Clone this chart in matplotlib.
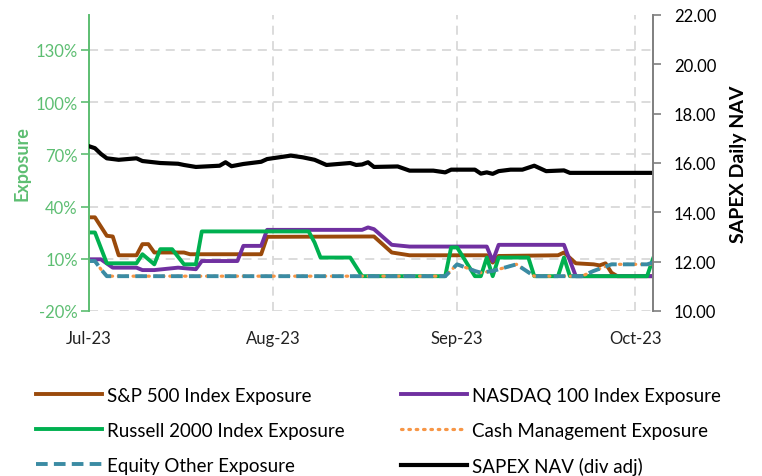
import matplotlib
matplotlib.use("Agg")
import matplotlib.pyplot as plt
import matplotlib.dates as mdates
from matplotlib.ticker import PercentFormatter, FormatStrFormatter
import pandas as pd

plt.rcParams["font.family"] = ["Lato", "DejaVu Sans"]
plt.rcParams["axes.unicode_minus"] = False

GREEN_AX = "#5DBE72"
GRID = "#D9D9D9"

# --- data (vertices of each line) ---
nav_dates = ["2023-07-01", "2023-07-02", "2023-07-03", "2023-07-04", "2023-07-06",
             "2023-07-09", "2023-07-10", "2023-07-13", "2023-07-16", "2023-07-17",
             "2023-07-19", "2023-07-23", "2023-07-24", "2023-07-25", "2023-07-27",
             "2023-07-30", "2023-07-31", "2023-08-02", "2023-08-04", "2023-08-06",
             "2023-08-08", "2023-08-10", "2023-08-11", "2023-08-14", "2023-08-15",
             "2023-08-16", "2023-08-17", "2023-08-18", "2023-08-22", "2023-08-24",
             "2023-08-28", "2023-08-30", "2023-08-31", "2023-09-04", "2023-09-05",
             "2023-09-06", "2023-09-07", "2023-09-08", "2023-09-10", "2023-09-12",
             "2023-09-14", "2023-09-16", "2023-09-19", "2023-09-20", "2023-10-04"]
nav_values = [16.68, 16.60, 16.37, 16.19, 16.13,
              16.19, 16.08, 16.00, 15.97, 15.92,
              15.84, 15.89, 16.03, 15.87, 15.96,
              16.05, 16.16, 16.23, 16.30, 16.23,
              16.13, 15.92, 15.94, 16.00, 15.92,
              15.94, 16.03, 15.84, 15.86, 15.69,
              15.69, 15.62, 15.73, 15.73, 15.57,
              15.62, 15.56, 15.67, 15.73, 15.73,
              15.89, 15.67, 15.70, 15.60, 15.60]

sp_dates = ["2023-07-01", "2023-07-02", "2023-07-04", "2023-07-05", "2023-07-06",
            "2023-07-09", "2023-07-10", "2023-07-11", "2023-07-12", "2023-07-17",
            "2023-07-18", "2023-07-30", "2023-07-31", "2023-08-18", "2023-08-21",
            "2023-08-24", "2023-09-06", "2023-09-07", "2023-09-08", "2023-09-18",
            "2023-09-19", "2023-09-21", "2023-09-24", "2023-09-25", "2023-09-26",
            "2023-09-27", "2023-09-28", "2023-10-04"]
sp_values = [33.8, 33.8, 23.2, 22.8, 12.0,
             12.0, 18.4, 18.4, 13.6, 13.6,
             12.6, 12.6, 22.6, 22.8, 13.6,
             12.0, 12.0, 7.8, 11.6, 12.0,
             13.6, 7.4, 6.8, 6.2, 7.4,
             2.0, 0.0, 0.0]

ndx_dates = ["2023-07-01", "2023-07-03", "2023-07-05", "2023-07-09", "2023-07-10",
             "2023-07-12", "2023-07-16", "2023-07-19", "2023-07-20", "2023-07-26",
             "2023-07-27", "2023-07-30", "2023-07-31", "2023-08-16", "2023-08-17",
             "2023-08-18", "2023-08-21", "2023-08-24", "2023-09-06", "2023-09-07",
             "2023-09-08", "2023-09-19", "2023-09-21", "2023-10-04"]
ndx_values = [9.7, 9.7, 4.9, 4.9, 3.5,
              3.5, 4.9, 4.0, 8.7, 8.7,
              17.4, 17.4, 26.6, 26.6, 28.0,
              27.0, 18.0, 17.0, 17.0, 8.7,
              18.0, 18.0, 0.0, 0.0]

rut_dates = ["2023-07-01", "2023-07-02", "2023-07-04", "2023-07-09", "2023-07-10",
             "2023-07-12", "2023-07-13", "2023-07-15", "2023-07-17", "2023-07-19",
             "2023-07-20", "2023-08-07", "2023-08-08", "2023-08-09", "2023-08-14",
             "2023-08-16", "2023-08-30", "2023-08-31", "2023-09-01", "2023-09-04",
             "2023-09-05", "2023-09-06", "2023-09-07", "2023-09-08", "2023-09-13",
             "2023-09-14", "2023-09-18", "2023-09-19", "2023-09-20", "2023-10-03",
             "2023-10-04"]
rut_values = [25.1, 25.1, 7.4, 7.4, 12.6,
              6.8, 15.5, 15.5, 6.8, 6.8,
              25.7, 25.7, 19.3, 10.7, 10.7,
              0.0, 0.0, 16.5, 16.5, 0.0,
              0.0, 10.7, 0.0, 10.7, 10.7,
              0.0, 0.0, 10.7, 0.0, 0.0,
              10.0]

cash_dates = ["2023-07-01", "2023-07-02", "2023-07-03", "2023-07-04", "2023-08-30",
              "2023-09-01", "2023-09-04", "2023-09-05", "2023-09-07", "2023-09-11",
              "2023-09-14", "2023-09-22", "2023-09-24", "2023-09-27", "2023-10-04"]
cash_values = [8.7, 8.7, 4.0, 0.0, 0.0,
               6.8, 3.0, 2.0, 3.0, 6.8,
               0.0, 0.0, 3.0, 6.8, 6.8]

eq_dates = ["2023-07-01", "2023-07-02", "2023-07-03", "2023-07-04", "2023-08-30",
            "2023-09-01", "2023-09-04", "2023-09-05", "2023-09-07", "2023-09-11",
            "2023-09-14", "2023-09-22", "2023-09-24", "2023-09-27", "2023-10-03",
            "2023-10-04"]
eq_values = [8.7, 8.7, 4.0, 0.0, 0.0,
             6.8, 3.0, 2.0, 3.0, 6.8,
             0.0, 0.0, 3.0, 6.8, 6.8,
             7.8]

month_ticks = ["2023-07-01", "2023-08-01", "2023-09-01", "2023-10-01"]
left_ticks = [-20, 10, 40, 70, 100, 130]
right_ticks = [10, 12, 14, 16, 18, 20, 22]

d = pd.to_datetime

fig = plt.figure(figsize=(7.62, 4.77), dpi=100)
ax = fig.add_axes([89 / 762, 1 - 312 / 477, (653 - 89) / 762, (312 - 16) / 477])
ax2 = ax.twinx()

lw = 2.8
l_sp, = ax.plot(d(sp_dates), sp_values, color="#9A4A0B", lw=lw,
                label="S&P 500 Index Exposure")
l_ndx, = ax.plot(d(ndx_dates), ndx_values, color="#7030A0", lw=lw,
                 label="NASDAQ 100 Index Exposure")
l_rut, = ax.plot(d(rut_dates), rut_values, color="#00B050", lw=lw,
                 label="Russell 2000 Index Exposure")
l_cash, = ax.plot(d(cash_dates), cash_values, color="#F79646", lw=2.3,
                  dashes=(0.5, 1.8), dash_capstyle="round",
                  label="Cash Management Exposure")
l_eq, = ax.plot(d(eq_dates), eq_values, color="#3B8BA3", lw=lw,
                dashes=(3.0, 1.6), label="Equity Other Exposure")
l_nav, = ax2.plot(d(nav_dates), nav_values, color="black", lw=3.0,
                  label="SAPEX NAV (div adj)")

# left axis
ax.set_ylim(-20, 150)
ax.set_yticks(left_ticks)
ax.yaxis.set_major_formatter(PercentFormatter(100, decimals=0))
ax.tick_params(axis="y", colors=GREEN_AX, labelsize=12, length=6, width=1.2, pad=2)
ax.set_ylabel("Exposure", color=GREEN_AX, fontsize=13, fontweight="bold", labelpad=4)

# x axis
ax.set_xlim(d("2023-07-01"), d("2023-10-04"))
ax.set_xticks(d(month_ticks))
ax.xaxis.set_major_formatter(mdates.DateFormatter("%b-%y"))
ax.tick_params(axis="x", length=0, labelsize=12, pad=14, colors="#222222")

ax.grid(True, color=GRID, lw=1.3, dashes=(5, 3.5))
ax.set_axisbelow(True)

for s in ("top", "bottom", "right"):
    ax.spines[s].set_visible(False)
ax.spines["left"].set_color(GREEN_AX)
ax.spines["left"].set_linewidth(1.4)

# right axis
ax2.set_ylim(10, 22)
ax2.set_yticks(right_ticks)
ax2.yaxis.set_major_formatter(FormatStrFormatter("%.2f"))
ax2.tick_params(axis="y", colors="#7F7F7F", labelcolor="black", labelsize=12,
                length=6, width=1.2, pad=9)
ax2.set_ylabel("SAPEX Daily NAV", fontsize=14, fontweight="bold", labelpad=10)
for s in ("top", "bottom", "left"):
    ax2.spines[s].set_visible(False)
ax2.spines["right"].set_color("#7F7F7F")
ax2.spines["right"].set_linewidth(1.4)

handles = [l_sp, l_rut, l_eq, l_ndx, l_cash, l_nav]
fig.legend(handles=handles, loc="upper left", bbox_to_anchor=(0.025, 0.222),
           ncol=2, frameon=False, fontsize=13.5, handlelength=3.5,
           handletextpad=0.3, labelspacing=0.95, columnspacing=3.0)

fig.savefig("out.png", dpi=100)
